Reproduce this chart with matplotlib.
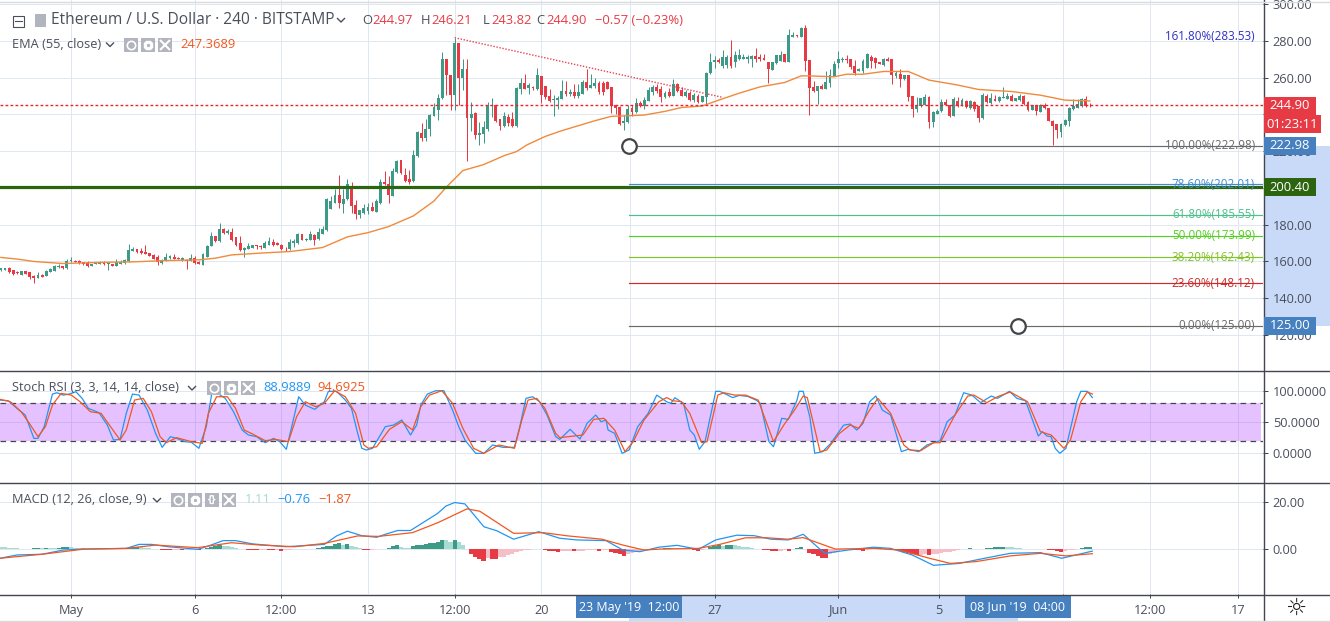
"""
ETH/USD 4h TradingView screen with EMA, Fibonacci levels, Stoch RSI and MACD
"""
import matplotlib
matplotlib.use('Agg')
import matplotlib.pyplot as plt
from matplotlib.patches import Rectangle
import numpy as np

plt.rcParams['font.family'] = ['Open Sans', 'DejaVu Sans']

# bars are numbered from 1 May 00:00, first visible bar is -17
opens = [155.1,155.5,156.6,155.3,154.4,152.8,154.8,154.2,152.2,151.1,
152.9,152.2,154.4,154.9,157.1,157.5,156.2,160,160.4,160.4,
159.6,159.1,157.5,158.6,158.9,159.6,158.4,158.7,157.6,158.6,
159.1,160.2,165.8,166.7,165.6,165.1,164.5,163.8,162.2,159.1,
160.4,161.8,162.7,162,160.7,160.9,160.4,161.8,159.8,158.2,
162.7,168.5,173.9,171,177.9,175.4,176.3,173.2,169.8,166.3,
166.9,167.6,168.9,168.7,167.6,169,170.8,170.3,169.2,167.6,
166.7,169.9,169.9,175,171.6,171.8,174.6,172.1,175.2,177,
188.7,192,196,191.5,193.8,199.6,190.6,185.3,186.6,187.7,
189.8,187.1,191.6,203.2,201.9,195.6,208.6,215.1,206.8,204.7,
203.8,217.3,230,227.4,232.1,239.3,242.6,248.7,270,261.4,
250.5,278.7,259.9,264.6,238.2,240.8,228.8,229.4,232.1,244.4,
245.1,237.5,233.9,238.6,237.5,233.5,253.8,257.4,254.5,255.2,
254.1,260.8,255.4,249.8,247.8,247.8,248.4,252.7,251.3,252,
249.8,251.1,257.8,254.5,255.6,257,257,257.8,254.9,245.1,
244.2,235.3,235.7,243.5,241.1,246.2,244.7,247.5,252.5,254.7,
254.1,249.3,252.3,250.2,256.5,253.4,249.8,251.6,247.8,249.8,
246.9,249.4,262.5,268.6,269.7,266.4,266.8,271.5,268.8,270.1,
270.4,270.4,270.1,271.9,271.5,270.9,268.6,264.3,267.9,269.3,
272.8,268.6,282.4,283.1,282.4,286.9,269.5,255,252.7,255.6,
254.1,257.4,261,267.9,269.5,270.4,270,266.4,263.7,263.7,
265.5,271.5,271,268.6,266.8,270.1,270.1,261,262.3,259.2,
261.4,249.8,242.9,244.4,245.1,249.6,235.7,240.2,241.7,246.9,
245.1,239.3,247.5,244.7,247.5,243.3,246.9,244.4,238,250.2,
246,248.4,247.1,249,248.4,249.8,247.5,247.8,250.2,246.9,
242.6,245.1,241.5,245.3,243.3,236.6,234.6,230.6,234.3,236.6,
242.9,243.7,244.4,248.4,244.97]
highs = [156.4,156.5,156.9,155.6,154.6,154.9,155,154.4,152.9,154.4,
153.2,155.3,156.2,158,158.6,157.7,161.3,162.7,160.6,160.6,
159.8,160,158.8,159.3,160,160,159.3,158.9,161.3,160.7,
161.6,169.4,167.8,166.9,167.6,169.2,164.7,164,163.4,161.1,
164.5,163.6,164,162.5,162.5,161.1,164,163.1,160,164.5,
168.9,176.3,174.1,180.8,178.1,177.9,178.1,173.4,173.6,167.8,
170.3,169.1,169.1,168.9,171.2,173.2,172.1,170.5,169.4,167.8,
172.1,172.3,175.7,175.2,172.7,176.6,174.8,178.3,179.3,194.4,
195.6,199.6,207,199.2,204.7,203.2,193.3,188.2,191.1,191.6,
192.4,193.8,204.7,209,206.5,211,215,215.5,211,209.7,
220.9,230.9,235.4,237.6,240.1,246.2,251.1,274.2,270.2,261.6,
281.8,278.9,270.4,270,246.6,241.1,236,236.6,246.6,248.7,
245.3,237.7,241.1,240.2,241.1,254.7,259.8,261.9,257.4,255.4,
265.2,261,255.6,253.8,250.5,249.8,258.7,258.3,254.1,256.5,
256.5,258.8,264.6,261.9,259.6,258.3,258.3,258,255.1,245.3,
244.4,239.7,245.1,245.1,248.7,247.5,249.6,255.2,256,256.5,
255.6,252.9,254.5,259.2,257.4,254.7,253.4,252.9,251.6,251.1,
250,263.2,273.3,271.9,271,275.1,272.3,280.4,274.6,275.8,
272.8,272.2,272.1,276.4,272.8,273,268.8,268.8,272.6,274.6,
273,286.3,284.9,283.5,287.6,288.5,269.7,258.1,255.6,256.5,
263.7,264.6,269.2,274.6,271.5,272.2,270.2,269.7,265.2,270.1,
273.7,272.6,271.2,268.8,271,271.5,270.3,263.7,264.6,261.6,
261.6,250,249.3,248.9,251.1,249.8,241.7,242.9,248.4,248.4,
245.3,249.3,249.3,248.7,247.7,247.7,247.1,244.6,251.6,251.1,
251.6,250.5,249.8,254.7,251.6,251.1,248.9,251.3,250.4,247.1,
245.3,245.3,245.5,246.2,243.5,236.8,234.8,235.2,237.4,243.9,
248.4,248.4,248.7,249.8,246.21]
lows = [154.9,155.3,153.7,152.6,153.2,152.7,153,150.4,148.4,150.8,
151.4,152,154.2,154.7,156.6,156,156,159.8,159.6,158.9,
158.2,156.9,157.3,158.4,158.4,158.2,155.5,157.4,157.4,158.4,
158.9,159.5,165.6,164.5,164.3,164,162.9,161.4,158.2,158.9,
160.2,161.6,161.4,161.1,160.5,155.8,160.2,158.9,158.5,158,
162.5,168.3,170.8,170.8,175.2,175.2,171.4,168.5,165.8,162.5,
166.7,167.4,166.7,167,167.4,168.8,168.7,168.8,166.5,165.8,
166.5,168.1,169.7,171.6,171.4,171.6,169,171.9,175,176.8,
188.5,191.8,188.9,186.6,193.6,186.6,183,183.9,185.7,185.7,
187.5,186.9,191.4,201.7,191.6,195.4,208.4,207.4,203.4,202,
203,217.1,225.4,225.4,228.5,239.1,237.2,248.5,250.5,242.6,
242.6,245.3,253.4,214.9,231.2,226.7,223.4,224.5,231.2,238.4,
235.7,231.5,233,233.5,233,233.3,251.1,253.8,251.1,253.4,
253.4,246.2,248.4,246.6,239.3,242.9,248.2,250.2,249.8,248.7,
248.7,250.9,253.4,254.3,254.3,251.1,250.5,253.9,240.6,240.2,
234.4,231.5,235.3,239,240.9,244,242.9,247.3,250.5,251.6,
246.6,249.1,249.3,250,252.3,250,249.6,247.5,246.6,246.2,
246.6,245.5,262.3,265.5,267.9,265.5,265.5,265.5,266.1,269.7,
270.2,268.2,266.1,268.6,269.2,269.5,257,264.1,267.7,269.1,
268.6,268.4,282.2,282.2,282.2,263.7,239.7,252.5,245.6,253.9,
253.9,254.7,260.8,265.5,268.6,268.2,264.6,261.4,263.5,262.4,
265.3,265.5,265.5,267.5,266.6,269,256.5,259.9,254.7,259,
247.5,238.8,241.5,244.2,244.9,232.6,233,240,241.5,244.9,
238.6,239.1,244.2,244.5,243.3,243.1,242,236,237.8,246.4,
245.8,247.3,246.9,248.8,248.2,247.3,247.3,247.6,245.1,242,
242.4,239.7,241.3,243.1,236.4,223.4,227,227.6,233.5,233.9,
242.7,243.5,244.2,244.2,243.82]
closes = [156.2,156.4,154.4,153.3,153.5,154.8,153.3,151.5,150.8,152.9,
151.7,154.9,155.8,157.6,157.8,156.2,160,160.7,159.8,159.3,
158.4,157.3,158.6,159.1,159.6,158.4,159.1,157.6,159.5,159.8,
160.9,166.1,166.9,165.1,164.5,164.3,163.1,161.6,159.5,160.9,
162.4,163.1,161.6,161.3,161.8,160.5,161.8,159.1,158.7,164,
168.7,173.7,171,177.9,175.4,176.6,171.6,169.2,166,167.6,
168.5,168.9,168.5,168.1,169.8,171.2,168.9,169,166.7,167.2,
170.5,171,175,171.8,172.5,175.2,171.8,176.3,177.5,194.2,
192.9,196,191.6,194.2,201.9,190.2,185.7,188,188.9,189.5,
187.7,192.9,203,201.9,196.3,209.4,214.8,207.9,203.6,203.2,
217.7,230.3,227.4,232.3,239.7,243.8,248.9,270,261.4,250.5,
278.7,259.9,264.6,238.2,240.2,228.8,229.9,233,245.1,245.1,
236.6,233.5,239,235.3,233.5,254.3,257.4,254.1,256,254.5,
261.6,250.5,249.3,247.5,248.4,248.9,252.7,250.9,252.2,250.2,
252.3,257.8,254.3,256,257,252.3,252,254.1,244.4,243.3,
234.8,236.2,242.9,241.1,246.2,244.6,247.8,253.2,254.7,252.7,
249.4,251.6,250.2,256.5,252.9,250.2,252.3,248,250.5,246.6,
249.8,262.5,268.6,269.5,268.6,271.5,271.5,266.4,272.2,272.2,
271.5,271.5,271.9,270.1,270.4,269.7,264.6,268.6,272.4,272.4,
268.8,283.1,283.1,282.5,287.2,269.1,254.3,252.7,255.4,254.1,
257.9,261.4,267.2,270.1,270.4,269.7,266.1,262.8,265,269.2,
272.8,269.2,268.2,267.7,270.1,269.2,261.4,262.5,259.2,261.4,
249.3,242.9,245.1,248.7,249.3,235.7,241.5,242,246.6,245.1,
239,248.4,244.4,248,243.8,247.5,242.9,238,250.5,246.6,
248.7,247.5,249.6,249.6,249.8,247.5,248.7,249.8,245.6,242.2,
245.1,241.8,245.3,243.3,236.6,233.9,231.5,235,237.2,243.7,
244.7,245.5,248.4,244.4,244.90]

ema_idx = [-17,-13,-9,-2,7,15,23,31,35,39,47,53,61,67,72,77,83,88,91,95,100,105,108,110.5,115,
           119,123,127,131,135,139,144,148,153,157,162,167,173,177,179,185,188,192,197,203,208,
           215,220,228,235,241,247]
ema_vals = [162.2,161.3,160,158.9,159.5,159.8,160.5,160.9,161.8,163.6,164.7,165.4,167.6,173.4,
            175.7,179,184.8,192.9,200.5,209.5,212.7,217.6,219.8,223.4,228.1,231.2,233.9,236.6,
            239,239.3,239.7,241.7,243.8,244.6,247.8,251.6,255,257.4,261,261,260.5,261.9,261.9,
            263.4,263.4,258.7,256,253.6,252.5,250.5,247.8,247.37]

k_idx = [-17.2,-15.2,-13.1,-11.1,-9,-8,-6.5,-4.5,-3.4,-1.9,-0.4,1.2,2.7,4.2,6.8,8.8,10.3,11.9,13.4,
         14.9,16.5,18.5,20.5,22.1,24.1,25.6,27.7,29.2,31,32.8,34.1,35.8,37.4,39.4,41.5,43,45,47.1,
         49.1,50.6,52.2,53.7,55.2,56.8,59.1,61.4,62.4,64.4,66.5,68,69.5,70.5,71.6,73.1,76.2,78.2,
         80.2,82.3,83.8,84.8,86.4,88.4,90.4,92.5,94,95.5,98.1,100.1,102.2,104.7,107.5,108.8,110.3,
         111.9,113.6,115.4,117.5,118.5,121,123.4,125.1,127.2,128.5,129.7,130.2,131.8,133.6,135.3,
         137.4,139.9,142,144.4,145.4,146.4,148.5,150,151.1,152.3,153.7,156.3,157.3,158.9,160.4,162,
         164,166.1,167.1,169.2,170.3,172.3,173.9,176,176.5,177.5,179.1,180.3,182.2,184.2,187.3,
         188.9,190.5,192,193.6,195.1,196.7,198.7,201.3,202.9,205.5,207.5,210.7,212.4,214.3,216.4,
         218.4,220.5,223.1,224.6,227.5,229.3,231.4,234.5,235.5,236.6,237.6,238.6,239.7,241.2,243.8,
         244.8,246.4,247.6]
k_vals = [85.1,84,71.8,61.2,23.9,23.9,42.6,94.7,96.8,93,94.7,98.4,87.8,71.8,64.9,45.2,21.3,22.3,63.8,
          94.7,93,69.1,31.9,9.6,26.6,23.9,18.6,17.6,8,42.6,94.7,94.7,87.8,66.5,37.2,29.3,26.6,17,
          23.9,18.6,6.4,47.9,90.4,77.1,70.2,82.4,99,99,85.1,71.8,31.9,8,5.3,8,42.6,45.2,
          53.2,29.3,45.2,77.1,94.7,100,100,69.1,42.6,21.3,0,0,13.3,9.6,9.6,42.6,87.8,
          90.4,82.4,61.2,26.6,22.3,38.3,22.8,47.9,61.2,50.5,53.2,37.2,31.9,0,5.3,
          42.6,63.8,93,82.4,79.8,88.8,79.8,37.2,29.3,6.4,18.6,99,99,94,89,92.5,
          91,85,80,18.6,10.6,55.9,54.3,85,99,99,58.5,0,2.7,16,45,
          46.8,37.2,47.9,82.4,91.5,69,61.2,2.7,6.4,2.7,13.3,20.2,50.5,61.2,96.8,
          93,80.9,91.5,87.8,99,87.8,84,27.7,34.6,27.7,26.6,8,0,8,82.4,
          99,99,88.99]

d_idx = [-17.2,-14.7,-12.1,-10.1,-8,-6.2,-4.5,-2.4,0.1,2.2,4.7,7.3,9.3,11.9,13.4,15.4,17.5,19.5,21.6,
         23.1,25.6,29.2,31.8,33.3,35.3,37.9,39.9,42,44,47.1,49.6,52.7,54.7,56.8,59.3,61.4,63.9,66.5,
         69,71,72.1,74.1,77.2,80.2,82.8,84.8,86.9,89.9,92.5,95,97.6,100.1,103.7,107.5,109.3,110.8,
         112.9,114.9,117.5,118.5,124.1,126.7,129.2,131.8,134.3,136.3,138.9,142.5,144.4,145.9,148,
         150,152.9,154.2,156.8,158.3,160.9,163.5,166.6,170.3,172.8,175.4,177.5,178.5,181.6,183.2,
         186.3,188.9,191,193.6,195.6,198.7,201.9,203.4,206,209.1,210.7,214.3,217.4,218.9,222,224.6,
         227.7,231.9,235,237.6,240.7,242.3,244.8,246.4,247.6]
d_vals = [86.2,82.4,66.5,47.9,26.6,42.6,77.1,95.7,93,82.4,66.5,63.8,45.2,21.3,37.2,85.1,87.8,66.5,26.6,
          17,25,18.6,15.9,63.8,90.4,90.4,71.8,37.2,30.9,20.2,22.3,18.6,58.5,82.4,74.5,79.8,99.9,90.4,
          63.8,13.3,8,10.6,38.3,50.5,37.2,74.5,93,100,79.8,39.9,8,0,13.3,8,53.2,85.1,
          87.8,71.8,31.9,25,29.3,54.3,55.9,37.2,2.7,18.6,53.2,82.4,89,84,82.4,
          63.8,17,18.6,93,96.8,93,93,85,18.6,45.2,69,91.5,89,2.7,5.3,
          31.9,45.2,39.9,69,87.8,63.8,13.3,5.3,4.3,17,17,61.2,91.5,93,80.9,90.4,
          98,82.4,34.6,29.3,8,21.3,82.4,98,94.69]

macd_idx = [-17.2,-13.1,-7,-1.9,3.2,13.4,16.5,19.5,23.6,30.7,32.8,36.9,39.9,44,52.2,61.4,64.4,67,70.5,
            74.1,76.2,79.2,82.3,88.9,90.9,93,95.5,100.1,103.2,107.3,113.4,118.5,122.6,129.7,133.8,
            137.9,142.5,146.9,152.1,156.3,161.4,165.6,169.7,173.9,177.5,182.7,188.4,194.6,198.7,
            203.9,209.1,215.3,221.5,227.7,235,240.2,247.6]
macd_vals = [-3.8,-2.4,-2.1,-0.3,0.1,0.4,2.1,2.1,1.1,0,1.1,3.7,3.7,2.3,1.1,2.1,5.7,7.7,5.8,
             5.1,6.4,8,8,15.3,18.4,19.9,19.3,9.6,7.9,4.3,7.5,4.7,4,3.7,-0.3,
             -1,0.9,1.7,0,4,6,5.8,4.3,4,6.4,-1.7,-0.3,0.9,0.4,
             -2.4,-6.8,-6,-3.8,-1.7,-1.4,-3.8,-0.76]
signal_idx = [-17.2,-7,3.2,13.4,20.5,30.7,38.9,46,54.2,61.4,69.5,74.6,82.8,88.9,96,99.1,107.3,114.4,
              120.5,128.7,133.8,138.9,142.8,152.1,157.3,163.5,168.7,173.9,177.5,185.3,194.6,200.8,
              208.1,213.2,219.5,227.7,235,241.2,247.6]
signal_vals = [-3.8,-2.1,0.1,0.4,1.8,0.7,2.8,1.8,1.1,2.5,5.7,5.5,7.1,11.3,17.2,16.2,6.8,7.1,
               5.7,4.3,1.8,-0.3,0.1,0.4,2.1,4.9,4.9,4.3,5,0.1,0.4,-0.3,
               -3.8,-6,-5.2,-2.8,-1.7,-2.8,-1.87]
hist_vals = [.8,.8,.7,.5,.4,.2,.3,.3,.5,.6,
.6,.7,.6,.6,.7,.8,.9,.8,.6,.5,
.4,.3,.2,.2,.1,.1,.2,.1,.1,.1,
.3,.6,.8,.9,.8,.6,.4,.2,.1,-.1,
-.2,-.3,-.3,-.2,-.3,-.2,-.1,-.1,-.2,.1,
.6,1,1.4,1.8,1.6,1.2,.8,.4,.1,0,
-.1,-.2,-.3,-.2,-.2,-.3,-.4,-.4,-.9,-.5,
-.2,.1,.2,.1,.2,.3,.3,.6,.9,1.2,
1.6,2.2,2.6,2,2.3,1.4,.9,.5,-.1,-.3,
-.1,.1,.2,.3,.4,1.2,1.8,1,.7,.4,
1.2,1.8,2,2.2,2.5,2.7,3.1,4,3.9,3.2,
3.9,2.9,2,.1,-2.1,-3.1,-4.1,-4.8,-3.6,-4,
-4.1,-3.4,-3.1,-2.6,-1.9,-1.3,-.9,-.5,-.2,0,
.1,0,-.5,-.6,-.9,-1.1,-.9,-.8,-.6,-.9,
-.8,-.6,-.5,-.4,-.3,-.6,-.5,-.4,-1,-1.6,
-2.2,-3,-2,-1.6,-1.2,-.8,-.5,-.2,.1,.2,
.3,.5,.7,.6,.4,.3,.2,.1,-.5,-.8,
-.4,.2,1,1.5,1.8,1.4,1.8,1.9,1.7,1.4,
1.1,.9,.6,.3,.1,-.1,-.5,-.7,-.8,-.6,
-.5,-.7,.3,.6,.9,0,-1.6,-2.1,-3,-3.6,
-3.7,-2.2,-1.4,-.6,-.2,0,.1,-.3,-.5,-.7,
-.3,.2,.4,.5,.4,.2,0,-.2,-.6,-1,
-1.4,-2,-2.6,-2.4,-2.2,-2.6,-2.2,-1.9,-1.6,-1.3,
-1,-.6,-.2,0,.2,.4,.3,0,.3,.5,
.7,.8,.9,1,.9,.8,.6,.5,.3,.1,
0,0,0,0,-.2,-.5,-.8,-1.2,-.9,-.4,
-.2,.3,.6,.9,1.11]

fib_labels = ['161.80%', '100.00%', '78.60%', '61.80%', '50.00%', '38.20%', '23.60%', '0.00%']
fib_prices = [283.53, 222.98, 202.01, 185.55, 173.99, 162.43, 148.12, 125.00]
fib_colors = ['#3030c8', '#6a6a6a', '#3d8fd1', '#4cc08e', '#55cf25', '#84c326', '#cc2b2b', '#6a6a6a']
fib_start, fib_end = 135.3, 229.5

trend_idx = [93, 158]
trend_vals = [281.8, 249.3]
last_price = 244.90
support = 200.40

tick_pos = [0, 30, 51, 72, 93, 114, 135.5, 156, 186, 210.5, 240.5, 261.5, 283]
tick_labels = ['May', '6', '12:00', '13', '12:00', '20', '', '27', 'Jun', '5', '', '12:00', '17']
price_ticks = [120, 140, 160, 180, 200, 220, 240, 260, 280, 300]
# 200 and 240 sit fully behind the price tags in the screenshot
hidden_price_ticks = [200, 240]
stoch_ticks = [0, 50, 100]
macd_ticks = [0, 20]

GREEN = '#3c9a87'
RED = '#e63b45'
GRID = '#dfe8f0'
TEXT = '#4a4f5c'
DARK = '#434651'
BLUE = '#2196f3'
ORANGE = '#f4561d'
TAG_BLUE = '#4680bf'
PX = 0.72  # one pixel in points

W, H = 1330, 622
X0, BAR = 71, 4.125
xlim = ((0 - X0) / BAR, (1263 - X0) / BAR)

fig = plt.figure(figsize=(W / 100, H / 100), dpi=100, facecolor='white')


def pane(top, bottom):
    ax = fig.add_axes([0, 1 - bottom / H, 1263 / W, (bottom - top) / H])
    ax.set_xlim(*xlim)
    for s in ax.spines.values():
        s.set_visible(False)
    ax.yaxis.tick_right()
    ax.tick_params(axis='y', length=5 * PX, width=PX, color=DARK, labelcolor=TEXT,
                   labelsize=9.2, pad=3.5)
    ax.tick_params(axis='x', length=0, labelbottom=False)
    ax.set_xticks(tick_pos)
    ax.grid(True, color=GRID, lw=PX)
    ax.set_axisbelow(True)
    return ax


# ---- price pane ----
ax = pane(0, 370)
ax.set_ylim(100.95, 302.3)
ax.set_yticks(price_ticks)
ax.set_yticklabels(['' if v in hidden_price_ticks else f'{v:.2f}' for v in price_ticks])

bar_x = np.arange(len(opens)) - 17
o, h, l, c = map(np.array, (opens, highs, lows, closes))
colors = [GREEN if b >= a else RED for a, b in zip(o, c)]
ax.vlines(bar_x, l, h, colors=colors, lw=PX, zorder=3)
ax.bar(bar_x, np.abs(c - o), bottom=np.minimum(o, c), width=0.72, color=colors, zorder=3)
ax.plot(ema_idx, ema_vals, color='#f08a3c', lw=1.0, zorder=4)
ax.plot(trend_idx, trend_vals, color='#e8434f', lw=1.0, ls=(0, (1, 1.2)), zorder=4)
ax.axhline(last_price, color='#f0202e', lw=1.0, ls=(0, (2, 1.6)), zorder=4)
ax.axhline(support, color='#2c640f', lw=2.3, zorder=5)

trans = ax.get_yaxis_transform()
for lab, val, col in zip(fib_labels, fib_prices, fib_colors):
    if lab != '161.80%':
        ax.plot([fib_start, xlim[1]], [val, val], color=col, lw=0.85, zorder=4)
    ax.text(1255 / 1263, val - (1.0 if lab == '161.80%' else 0), f'{lab}({val:.2f})', color=col,
            fontsize=8.4, ha='right', va='center', transform=trans, zorder=6)
ax.plot([fib_start, fib_end], [fib_prices[1], fib_prices[-1]], ls='none', marker='o', ms=10.5,
        mfc='white', mec='#444444', mew=1.6, zorder=7)

# ---- stoch rsi pane ----
ax2 = pane(371, 482)
ax2.set_ylim(-45.8, 131.5)
ax2.set_yticks(stoch_ticks)
ax2.set_yticklabels([f'{v:.4f}' for v in stoch_ticks])
ax2.axhspan(20, 80, xmax=1261 / 1263, color='#a020ff', alpha=0.27, lw=0)
for lvl in (20, 80):
    ax2.axhline(lvl, color=DARK, lw=0.9, ls=(0, (4.5, 3.5)))
ax2.plot(k_idx, k_vals, color=BLUE, lw=0.9, zorder=4)
ax2.plot(d_idx, d_vals, color=ORANGE, lw=0.9, zorder=5)

# ---- macd pane ----
ax3 = pane(483, 594)
ax3.set_ylim(-19, 28.2)
ax3.set_yticks(macd_ticks)
ax3.set_yticklabels([f'{v:.2f}' for v in macd_ticks])
hist = np.array(hist_vals)
hist_x = np.arange(len(hist)) - 17
prev = np.r_[hist[0], hist[:-1]]
hist_colors = []
for v, p in zip(hist, prev):
    if v >= 0:
        hist_colors.append(GREEN if v > p else '#a6dcd2')
    else:
        hist_colors.append(RED if v < p else '#f6bec7')
ax3.bar(hist_x, hist, width=1.0, color=hist_colors, zorder=3)
ax3.plot(macd_idx, macd_vals, color=BLUE, lw=0.9, zorder=4)
ax3.plot(signal_idx, signal_vals, color=ORANGE, lw=0.9, zorder=5)
ax3.tick_params(axis='x', labelbottom=True, labelsize=9.2, labelcolor=TEXT, length=4 * PX,
                width=PX, color=DARK, pad=4)
ax3.set_xticklabels(tick_labels)
for t, lab in zip(ax3.get_xticklines(), tick_labels):
    if lab == '':
        t.set_visible(False)

# selection bands sit behind the axis labels
fig.add_artist(Rectangle((1264 / W, 1 - 326 / H), 66 / W, 180 / H, transform=fig.transFigure,
                         color='#c9daf8', lw=0, zorder=-1))
fig.add_artist(Rectangle((629 / W, 1 - 621 / H), 389 / W, 26 / H, transform=fig.transFigure,
                         color='#c9daf8', lw=0, zorder=-1))

# ---- pixel overlay for legends, tags and frame lines ----
ov = fig.add_axes([0, 0, 1, 1], facecolor='none')
ov.set_xlim(0, W)
ov.set_ylim(H, 0)
ov.axis('off')


def txt(x, y, s, color=TEXT, size=9.2, ha='left', **kw):
    ov.text(x, y, s, color=color, fontsize=size, ha=ha, va='center', **kw)


def chevron(x, y):
    ov.plot([x - 3.5, x, x + 3.5], [y - 1.5, y + 2, y - 1.5], color=TEXT, lw=1.0)


def icons(x, y, kinds):
    for i, kind in enumerate(kinds):
        cx = x + 7 + i * 17
        ov.add_patch(Rectangle((cx - 7, y - 7), 14, 14, color='#b2b5be', lw=0))
        if kind == 'eye':
            ov.plot(cx, y, 'o', ms=6, mfc='none', mec='white', mew=1.2)
        elif kind == 'gear':
            ov.plot(cx, y, '8', ms=7, mfc='white', mec='white')
            ov.plot(cx, y, 'o', ms=2.4, mfc='#b2b5be', mec='none')
        elif kind == 'x':
            ov.plot(cx, y, 'x', ms=7, mec='white', mew=1.5)
        else:
            txt(cx, y, '{}', color='white', size=8, ha='center', weight='bold')


def price_tag(axis, value, label, color, width=52, dy=0):
    py = H - axis.transData.transform((0, value))[1] + dy
    ov.add_patch(Rectangle((1264, py - 9), width, 18, color=color, lw=0, zorder=5))
    txt(1264 + width / 2, py, label, color='white', size=9.4, ha='center', zorder=6)


# frame lines
for y in (370.5, 482.5, 594.5):
    ov.plot([0, W], [y, y], color=DARK, lw=1.0)
ov.plot([1263.5, 1263.5], [0, 620], color=DARK, lw=1.0)
ov.plot([0, W], [1.5, 1.5], color='#d8dbe0', lw=1.0)
ov.plot([0, W], [620.5, 620.5], color='#d8dbe0', lw=1.0)

# main legend
ov.add_patch(Rectangle((12.5, 15.5), 11.5, 11, fill=False, ec=TEXT, lw=0.8))
ov.plot([15, 22], [21, 21], color=TEXT, lw=0.8)
ov.add_patch(Rectangle((35, 14), 11, 13, color='#b2b5be', lw=0))
txt(51, 20.5, 'Ethereum / U.S. Dollar · 240 · BITSTAMP', size=11.2)
chevron(341, 20)
hdr = [(362, 'O', TEXT), (372, '244.97', RED), (421, 'H', TEXT), (431, '246.21', RED),
       (483, 'L', TEXT), (491, '243.82', RED), (536, 'C', TEXT), (546, '244.90', RED),
       (595, '−0.57 (−0.23%)', RED)]
for x, s, col in hdr:
    txt(x, 20.5, s, color=col, size=9.4)

txt(12, 44.5, 'EMA (55, close)', size=9.2)
chevron(110, 44.5)
icons(124, 44.5, ['eye', 'gear', 'x'])
txt(180, 44.5, '247.3689', color=ORANGE, size=9.4)

txt(12, 387.5, 'Stoch RSI (3, 3, 14, 14, close)', size=9.2)
chevron(192, 388)
icons(207, 388, ['eye', 'gear', 'x'])
txt(263, 387.5, '88.9889', color=BLUE, size=9.4)
txt(317, 387.5, '94.6925', color=ORANGE, size=9.4)

txt(12, 499.5, 'MACD (12, 26, close, 9)', size=9.2)
chevron(157, 500)
icons(171, 500, ['eye', 'gear', 'braces', 'x'])
txt(245, 499.5, '1.11', color='#a6dcd2', size=9.4)
txt(277, 499.5, '−0.76', color=BLUE, size=9.4)
txt(318, 499.5, '−1.87', color=ORANGE, size=9.4)

# price tags
price_tag(ax, last_price, f'{last_price:.2f}', RED, dy=0.5)
price_tag(ax, last_price, '01:23:11', RED, width=57, dy=19)
price_tag(ax, fib_prices[1], f'{fib_prices[1]:.2f}', TAG_BLUE)
price_tag(ax, support, f'{support:.2f}', '#2c640f')
price_tag(ax, fib_prices[-1], f'{fib_prices[-1]:.2f}', TAG_BLUE)

# crosshair date boxes
for x0, x1, s in ((576, 682, "23 May '19  12:00"), (965, 1071, "08 Jun '19  04:00")):
    ov.add_patch(Rectangle((x0, 596), x1 - x0, 22, color=TAG_BLUE, lw=0))
    txt((x0 + x1) / 2, 607, s, color='white', size=9.0, ha='center')

txt(1296, 608, '☼', color='#222222', size=17, ha='center', family='DejaVu Sans')

fig.savefig('out.png', dpi=100)
